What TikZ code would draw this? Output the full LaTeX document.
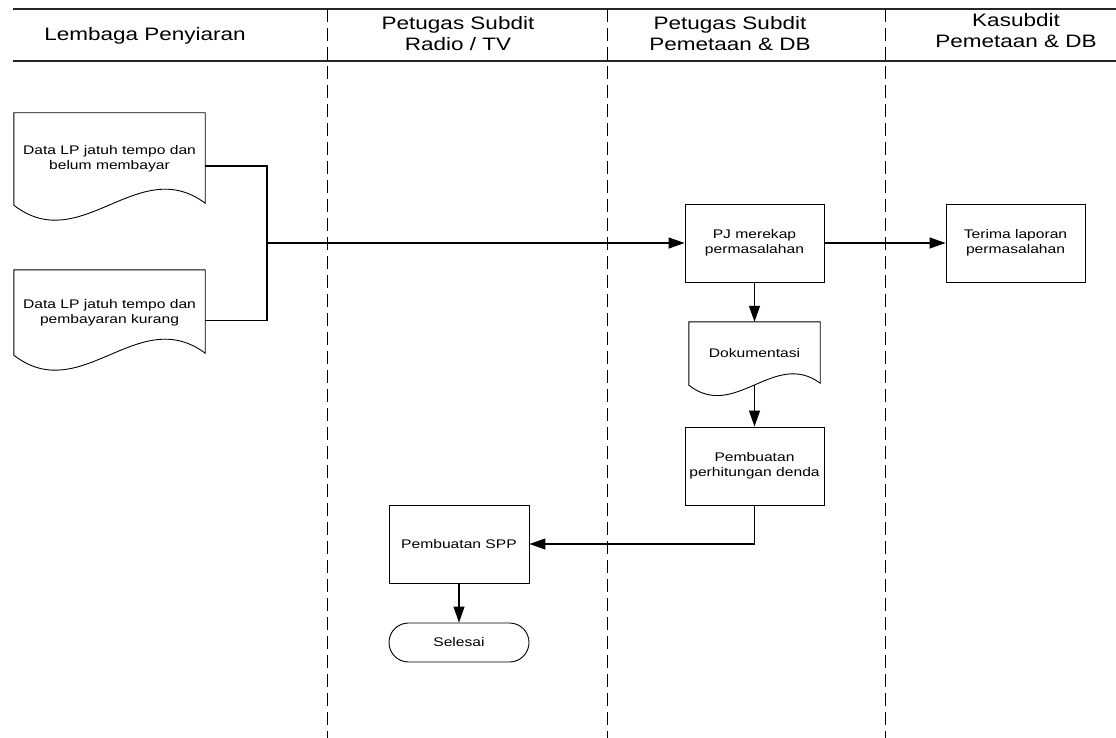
\documentclass[tikz,border=0pt]{standalone}
\usepackage{fontspec}
\setmainfont{Liberation Sans}[FakeStretch=1.25]
\usetikzlibrary{arrows.meta}
\usetikzlibrary{calc}

% outline of a document symbol round a node: #1 node, #2 wave depth
\newcommand\docoutline[2]{%
  \draw[line width=0.9pt] (#1.north west) -- (#1.north east) -- ([yshift=2pt]#1.south east)
    .. controls ([yshift=#2]$(#1.south west)!0.65!(#1.south east)$) and ([yshift=-#2]$(#1.south west)!0.35!(#1.south east)$) .. (#1.south west) -- cycle;%
}

\begin{document}
\begin{tikzpicture}[x=1pt,y=-1pt,>={Triangle[length=16pt,width=11pt]},
    box/.style={draw, rectangle, line width=0.9pt, align=center, inner sep=0pt, font=\fontsize{12.5}{15}\selectfont, minimum width=139pt, minimum height=78pt},
    doc/.style={rectangle, align=center, inner sep=0pt, font=\fontsize{12.5}{15}\selectfont},
    term/.style={box, rounded corners=19.5pt, minimum width=140pt, minimum height=39pt},
    head/.style={align=center, font=\fontsize{18}{21}\selectfont},
    lane/.style={draw, line width=1pt, dash pattern=on 13pt off 6pt},
    flow/.style={draw, line width=1.2pt}]
        \useasboundingbox (0,0) rectangle (1116,738);

        % lanes
        \draw[line width=1.6pt, black!85] (13,9) -- (1116,9);
        \draw[line width=1.6pt, black!85] (13,61) -- (1116,61);
        \foreach \lx in {327,607,885}
            \draw[lane] (\lx,9) -- (\lx,738);

        \node[head] (H1) at (145, 36) {Lembaga Penyiaran};
        \node[head] (H2) at (458, 34) {Petugas Subdit\\Radio / TV};
        \node[head] (H3) at (730, 34) {Petugas Subdit\\Pemetaan \& DB};
        \node[head] (H4) at (1016, 31) {Kasubdit\\Pemetaan \& DB};

        % steps
        \node[doc, minimum width=191pt, minimum height=92pt] (D1) at (109.5, 159) {Data LP jatuh tempo dan\\belum membayar};
        \docoutline{D1}{52pt}

        \node[doc, minimum width=191pt, minimum height=85pt] (D2) at (109.5, 312.5) {Data LP jatuh tempo dan\\pembayaran kurang};
        \docoutline{D2}{52pt}

        \node[box] (PJ) at (754.5, 243) {PJ merekap\\permasalahan};

        \node[box] (TL) at (1015.5, 243) {Terima laporan\\permasalahan};

        \node[doc, minimum width=131pt, minimum height=63pt] (DK) at (754.5, 353.5) {Dokumentasi};
        \docoutline{DK}{36pt}

        \node[box] (PD) at (754.5, 466) {Pembuatan\\perhitungan denda};

        \node[box, minimum width=140pt] (SPP) at (459, 544) {Pembuatan SPP};

        \node[term] (END) at (459, 642.5) {Selesai};

        \coordinate (M) at (267, 243);

        % connectors
        \draw[flow] ([yshift=-7pt]D1.east) -| (M) |- ([yshift=-8pt]D2.east);
        \draw[flow, ->] (M) -- (PJ);
        \draw[flow, ->] (PJ) -- (TL);
        \draw[flow, ->] (PJ) -- (DK);
        \draw[flow, ->] (DK.south) -- (PD.north);
        \draw[flow, ->] (PD.south) |- (SPP.east);
        \draw[flow, ->] (SPP) -- (END);

\end{tikzpicture}
\end{document}
